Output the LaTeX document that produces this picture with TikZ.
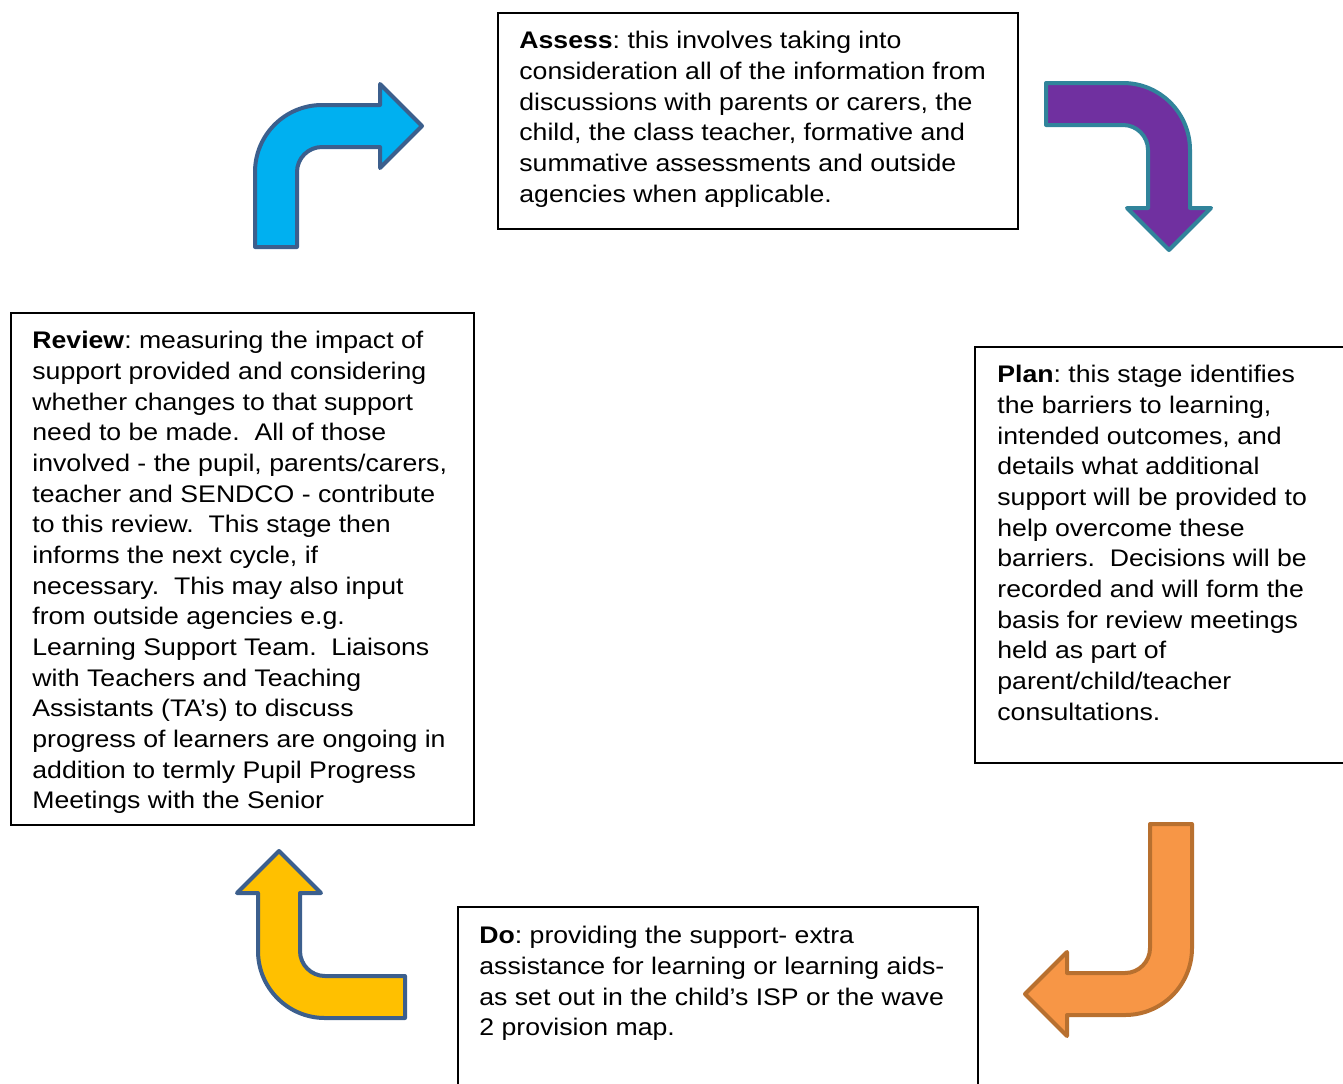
\documentclass[tikz,border=0pt]{standalone}
\usepackage{fontspec}
\setmainfont[FakeStretch=1.11]{Liberation Sans}
\frenchspacing
\definecolor{skyfill}{HTML}{00B0F0}
\definecolor{plumfill}{HTML}{7030A0}
\definecolor{amberfill}{HTML}{F79646}
\definecolor{goldfill}{HTML}{FFC000}
\definecolor{navyline}{HTML}{3C5F8D}
\definecolor{tealline}{HTML}{31849B}
\definecolor{rustline}{HTML}{B8702F}
\tikzset{
  stagebox/.style={line width=1pt},
  stagetext/.style={align=left, anchor=north west, inner sep=0pt,
    font={\fontsize{12pt}{15.33pt}\selectfont}},
  turnarrow/.style={line width=2pt, line join=round}
}
% bent arrow, outer corner at the origin, tail length #1
\newcommand{\bentarrow}[1]{%
  (0,#1) -- (0,67) arc[start angle=180, end angle=90, radius=33.5pt]
  -- (125,0) -- (125,-21) -- (167,21) -- (125,63) -- (125,42) -- (67,42)
  arc[start angle=90, end angle=180, radius=12.5pt] -- (42,#1) -- cycle}
\begin{document}
\begin{tikzpicture}[x=0.5pt, y=-0.5pt]
    \useasboundingbox (0,0) rectangle (1343,1083);
    \clip (0,0) rectangle (1343,1083);

    \draw[stagebox] (498,13) rectangle (1018,229);
    \node[stagetext] (assess) at (519,31) {\textbf{Assess}: this involves taking into\\
      consideration all of the information from\\
      discussions with parents or carers, the\\
      child, the class teacher, formative and\\
      summative assessments and outside\\
      agencies when applicable.};

    \draw[stagebox] (975,347) rectangle (1360,763);
    \node[stagetext] (plan) at (997,365) {\textbf{Plan}: this stage identifies\\
      the barriers to learning,\\
      intended outcomes, and\\
      details what additional\\
      support will be provided to\\
      help overcome these\\
      barriers.~ Decisions will be\\
      recorded and will form the\\
      basis for review meetings\\
      held as part of\\
      parent/child/teacher\\
      consultations.};

    \draw[stagebox] (458,907) rectangle (978,1100);
    \node[stagetext] (do) at (479,926) {\textbf{Do}: providing the support- extra\\
      assistance for learning or learning aids-\\
      as set out in the child’s ISP or the wave\\
      2 provision map.};

    \draw[stagebox] (11,313) rectangle (474,825);
    \node[stagetext] (review) at (32,331) {\textbf{Review}: measuring the impact of\\
      support provided and considering\\
      whether changes to that support\\
      need to be made.~ All of those\\
      involved - the pupil, parents/carers,\\
      teacher and SENDCO - contribute\\
      to this review.~ This stage then\\
      informs the next cycle, if\\
      necessary.~ This may also input\\
      from outside agencies e.g.\\
      Learning Support Team.~ Liaisons\\
      with Teachers and Teaching\\
      Assistants (TA’s) to discuss\\
      progress of learners are ongoing in\\
      addition to termly Pupil Progress\\
      Meetings with the Senior};

    \begin{scope}[shift={(255,105)}]
        \draw[turnarrow, draw=navyline, fill=skyfill] \bentarrow{142};
    \end{scope}
    \begin{scope}[shift={(1190,83)}, rotate=-90]
        \draw[turnarrow, draw=tealline, fill=plumfill] \bentarrow{144};
    \end{scope}
    \begin{scope}[shift={(1192,1015)}, rotate=180]
        \draw[turnarrow, draw=rustline, fill=amberfill] \bentarrow{191};
    \end{scope}
    \begin{scope}[shift={(258,1018)}, rotate=90]
        \draw[turnarrow, draw=navyline, fill=goldfill] \bentarrow{147};
    \end{scope}
\end{tikzpicture}
\end{document}
